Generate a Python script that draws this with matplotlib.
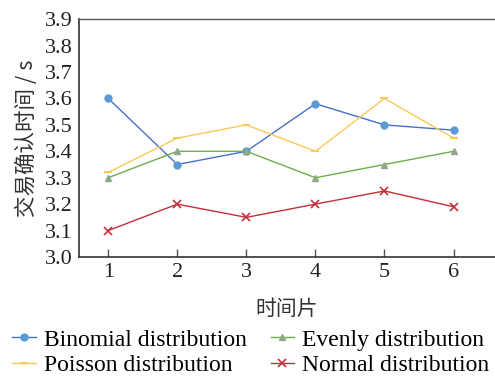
import matplotlib
matplotlib.use("Agg")
import matplotlib.pyplot as plt

time_slices = [1, 2, 3, 4, 5, 6]
binomial = [3.60, 3.35, 3.40, 3.58, 3.50, 3.48]
poisson = [3.32, 3.45, 3.50, 3.40, 3.60, 3.45]
evenly = [3.30, 3.40, 3.40, 3.30, 3.35, 3.40]
normal = [3.10, 3.20, 3.15, 3.20, 3.25, 3.19]
y_ticks = [3.0, 3.1, 3.2, 3.3, 3.4, 3.5, 3.6, 3.7, 3.8, 3.9]

serif = ["Liberation Serif", "Noto Sans CJK SC"]
cjk = ["Noto Sans CJK SC", "Liberation Serif"]

fig = plt.figure(figsize=(4.95, 3.76), dpi=100)
ax = fig.add_axes([0.16, 0.3165, 0.84, 0.6325])

ax.plot(time_slices, binomial, color="#4472c4", lw=1.0, marker="o", ms=5,
        mfc="#5b9bd5", mec="#5b9bd5", label="Binomial distribution")
ax.plot(time_slices, poisson, color="#f9c95a", lw=1.0, marker="_", ms=6,
        mew=1.5, mec="#f9c95a", label="Poisson distribution")
ax.plot(time_slices, evenly, color="#70ad47", lw=1.0, marker="^", ms=5,
        mfc="#8fa88a", mec="#8fa88a", label="Evenly distribution")
ax.plot(time_slices, normal, color="#c0323a", lw=1.0, marker="x", ms=6,
        mew=1.2, label="Normal distribution")

ax.set_xlim(0.58, 6.6)
ax.set_ylim(3.0, 3.9)
ax.set_yticks(y_ticks)
ax.set_yticklabels([f"{v:.1f}" for v in y_ticks], family=serif, fontsize=16,
                   color="#222222")
ax.set_xticks(time_slices)
ax.set_xticklabels([str(t) for t in time_slices], family=serif, fontsize=16,
                   color="#222222")
ax.tick_params(axis="x", direction="in", length=6, width=1, color="#555555", pad=4)
ax.tick_params(axis="y", length=0, pad=5)

for side in ["left", "bottom"]:
    ax.spines[side].set_color("#333333")
    ax.spines[side].set_linewidth(1.2)
ax.spines["top"].set_color("#555555")
ax.spines["top"].set_linewidth(1.0)
ax.spines["right"].set_visible(False)

ax.set_xlabel("时间片", family=cjk, fontsize=15, color="#333333", labelpad=12)
ax.set_ylabel("交易确认时间 / s", family=cjk, fontsize=15.5, color="#333333",
              labelpad=5)

handles, labels = ax.get_legend_handles_labels()
fig.legend(handles, labels,
           loc="lower left", bbox_to_anchor=(0.015, -0.012), ncol=2,
           frameon=False, prop={"family": serif, "size": 17},
           numpoints=1, handlelength=1.0, handletextpad=0.35,
           columnspacing=1.0, labelspacing=0.15, borderpad=0.2,
           borderaxespad=0.0)

fig.savefig("out.png", dpi=100)
